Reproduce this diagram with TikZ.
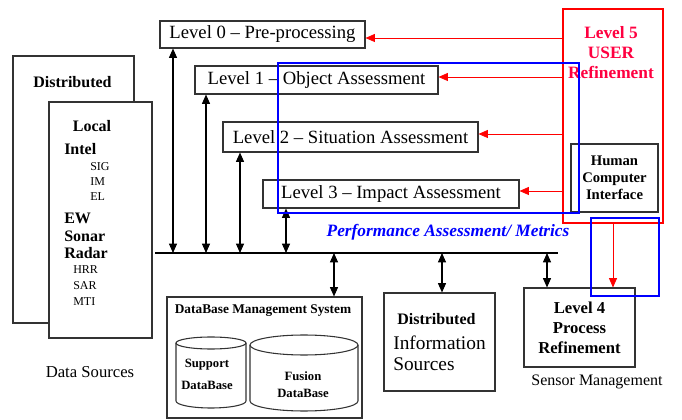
\documentclass[tikz,border=0pt]{standalone}
\usepackage{fontspec}
\setmainfont{Liberation Serif}
\usetikzlibrary{arrows.meta,positioning}
\definecolor{lvred}{RGB}{255,0,64}

\begin{document}
\begin{tikzpicture}[x=0.75pt,y=-0.75pt,
        box/.style={draw=black!80,line width=0.8pt,fill=white,inner sep=0pt},
        level/.style={box,font=\fontsize{14}{16}\selectfont},
        txt/.style={inner sep=0pt,font=\fontsize{12}{14}\selectfont\bfseries},
        small/.style={inner sep=0pt,font=\fontsize{9}{11}\selectfont},
        dbline/.style={draw=black!80,line width=0.8pt},
        dbtext/.style={inner sep=0pt,align=center,font=\fontsize{9.5}{17}\selectfont\bfseries},
        link/.style={{Triangle[length=7pt,width=6pt]}-{Triangle[length=7pt,width=6pt]},line width=0.8pt},
        feed/.style={-{Triangle[length=7pt,width=6pt]},red,line width=0.6pt},
        frame/.style={draw=blue,line width=1.5pt}]
\useasboundingbox (0,0) rectangle (682,420);

% data sources
\node[box,minimum width=90.75pt,minimum height=200.25pt] (dist) at (73.5,189.5) {};
\node[txt] (dist_text) at (72.5,82) {Distributed};
\node[box,minimum width=77.25pt,minimum height=177pt] (local) at (100.5,220) {};
\node[txt] (local_text) at (92,126) {Local};
\foreach \name/\label/\x/\y in {intel/Intel/64/149, ew/EW/64/218, sonar/Sonar/64/236, radar/Radar/64/253}
  \node[txt,anchor=west] (\name) at (\x,\y) {\label};
\foreach \name/\label/\x/\y in {sig/SIG/90/167, im/IM/90/182, el/EL/90/197, hrr/HRR/73/270, sar/SAR/73/286, mti/MTI/73/302}
  \node[small,anchor=west] (\name) at (\x,\y) {\label};
\node[inner sep=0pt,font=\fontsize{12.5}{14}\selectfont] (src) at (90,372) {Data Sources};

% fusion levels
\node[level,minimum width=153.75pt,minimum height=20.25pt] (l_0) at (262.5,34.5) {Level 0 -- Pre-processing};
\node[level,minimum width=182.25pt,minimum height=21pt] (l_1) at (316.5,80) {Level 1 -- Object Assessment};
\node[level,minimum width=191.25pt,minimum height=22.5pt] (l_2) at (350.5,137) {Level 2 -- Situation Assessment};
\node[level,minimum width=192pt,minimum height=21pt] (l_3) at (391,194) {Level 3 -- Impact Assessment};

% bus
\coordinate (bus_w) at (155,253);
\coordinate (bus_e) at (558,253);
\draw[line width=0.8pt] (bus_w) -- (bus_e);
\foreach \i/\x in {0/173,1/206,2/240,3/286} {
  \coordinate (b_\i) at (\x,253);
  \draw[link] (b_\i) -- (b_\i |- l_\i.south);
}

% level 5
\node[draw=red,line width=2.2pt,minimum width=75pt,minimum height=160.5pt,inner sep=0pt] (l5) at (613,116) {};
\node[inner sep=0pt,align=center,text=lvred,font=\fontsize{13}{15}\selectfont\bfseries] (l5_text) at (611,53) {Level 5\\USER\\Refinement};
\node[box,minimum width=65.25pt,minimum height=51pt,align=center,font=\fontsize{11}{12.75}\selectfont\bfseries] (hci) at (614.5,178) {Human\\Computer\\Interface};
\foreach \i/\y in {0/38,1/77,2/134,3/191}
  \draw[feed] (l5.west |- 0,\y) -- (l_\i.east |- 0,\y);

% lower row
\node[box,minimum width=146.25pt,minimum height=90.75pt] (dbms) at (264.5,357.5) {};
\node[inner sep=0pt,font=\fontsize{10}{12}\selectfont\bfseries] (dbms_text) at (263,311) {DataBase Management System};
\draw[dbline] (211,343) ellipse [x radius=35, y radius=6];
\draw[dbline] (176,343) -- (176,401) arc[start angle=180, end angle=0, x radius=35, y radius=7] -- (246,343);
\draw[dbline] (304,345) ellipse [x radius=54, y radius=10];
\draw[dbline] (250,345) -- (250,401) arc[start angle=180, end angle=0, x radius=54, y radius=10] -- (358,345);
\node[dbtext] (support_text) at (207,374.5) {Support\\DataBase};
\node[dbtext,font=\fontsize{9.5}{13}\selectfont\bfseries] (fusion_text) at (303,384.5) {Fusion\\DataBase};
\node[box,minimum width=83.25pt,minimum height=73.5pt,align=left,font=\fontsize{14.5}{16}\selectfont] (dis) at (439.5,342)
  {\hspace{3pt}\textbf{\fontsize{12}{14}\selectfont Distributed}\\[3pt]Information\\Sources};
\node[box,minimum width=83.25pt,minimum height=59.25pt,align=center,font=\fontsize{12.5}{15}\selectfont\bfseries] (l_4) at (579.5,327.5) {Level 4\\Process\\Refinement};
\node[inner sep=0pt,font=\fontsize{12}{14}\selectfont] (sensor) at (597,382) {Sensor Management};
\foreach \i/\x/\t in {4/334/dbms,5/442/dis,6/547/l_4} {
  \coordinate (b_\i) at (\x,253);
  \draw[link] (b_\i) -- (b_\i |- \t.north);
}
\draw[feed] (l5.south) -- (l5.south |- l_4.north);

% performance assessment
\node[inner sep=0pt,text=blue,font=\fontsize{13}{15}\selectfont\bfseries\itshape] (perf) at (448,232) {Performance Assessment/ Metrics};
\draw[frame] (278,63) rectangle (579,213);
\draw[frame] (591,218) rectangle (659,296);
\end{tikzpicture}
\end{document}
